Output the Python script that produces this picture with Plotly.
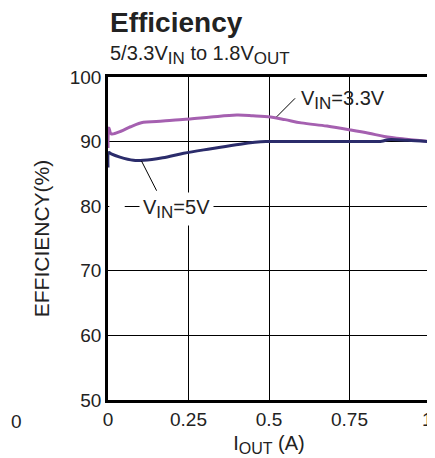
import plotly.graph_objects as go

# Data
x_33 = [0.0, 0.003, 0.01, 0.04, 0.07, 0.11, 0.15, 0.2, 0.255, 0.32, 0.40, 0.45, 0.505, 0.55, 0.6, 0.68, 0.754, 0.81, 0.858, 0.92, 1.0]
y_33 = [89.0, 92.1, 91.2, 91.6, 92.3, 93.0, 93.1, 93.3, 93.5, 93.8, 94.1, 94.0, 93.8, 93.4, 92.9, 92.4, 91.8, 91.3, 90.8, 90.4, 90.0]
x_5 = [0.0, 0.003, 0.01, 0.037, 0.079, 0.11, 0.17, 0.235, 0.32, 0.41, 0.49, 0.6, 0.7, 0.8, 0.85, 0.87, 0.93, 1.0]
y_5 = [86.0, 88.3, 88.1, 87.6, 87.1, 87.1, 87.5, 88.2, 88.9, 89.6, 90.0, 90.0, 90.0, 90.0, 90.05, 90.3, 90.2, 90.0]

x_ticks = [0, 0.25, 0.5, 0.75, 1]
x_tick_labels = ["0", "0.25", "0.5", "0.75", "1&nbsp;"]
y_ticks = [50, 60, 70, 80, 90, 100]

FONT = "Liberation Sans, Arial, sans-serif"
TXT = "#222"


def sub(s, size):
    return f"<sub><span style='font-size:{size}px'>{s}</span></sub>"


fig = go.Figure()
fig.add_trace(go.Scatter(x=x_33, y=y_33, mode="lines", line=dict(color="#a560b0", width=3), line_shape="spline", showlegend=False))
fig.add_trace(go.Scatter(x=x_5, y=y_5, mode="lines", line=dict(color="#2b2c6b", width=3), line_shape="spline", showlegend=False))

fig.update_layout(
    width=427, height=450,
    margin=dict(l=100, r=5, t=69, b=58),
    paper_bgcolor="white", plot_bgcolor="white",
    font=dict(family=FONT, size=19, color=TXT),
    xaxis=dict(range=[0, 1], tickvals=x_ticks, ticktext=x_tick_labels, showgrid=True, gridcolor="black", gridwidth=1,
               zeroline=False, showline=True, linecolor="black", linewidth=2.5, mirror=True, ticks="",
               tickfont=dict(size=19), fixedrange=True, automargin=False, ticklabeloverflow="allow",
               title=dict(text="I" + sub("OUT", 16) + " (A)", font=dict(size=20), standoff=8)),
    yaxis=dict(range=[50, 100], tickvals=y_ticks, showgrid=True, gridcolor="black", gridwidth=1,
               zeroline=False, showline=True, linecolor="black", linewidth=2.5, mirror=True, ticks="",
               tickfont=dict(size=19), fixedrange=True, automargin=False,
               title=dict(text="EFFICIENCY(%)", font=dict(size=21), standoff=15)),
    annotations=[
        dict(xref="paper", yref="paper", x=0.0, y=1.0, yshift=55, xanchor="left", yanchor="middle",
             text="<b>Efficiency</b>", showarrow=False, font=dict(size=28, color=TXT)),
        dict(xref="paper", yref="paper", x=0.0, y=1.0, yshift=22, xanchor="left", yanchor="middle",
             text="5/3.3V" + sub("IN", 17) + " to 1.8V" + sub("OUT", 17), showarrow=False, font=dict(size=20, color=TXT)),
        dict(x=0.594, y=96.4, xanchor="left", yanchor="middle", text="V" + sub("IN", 17) + "=3.3V", showarrow=False,
             font=dict(size=20, color=TXT)),
        dict(x=0.097, y=79.6, xanchor="left", yanchor="middle", text="V" + sub("IN", 17) + "=5V", showarrow=False,
             bgcolor="white", borderpad=3, font=dict(size=20, color=TXT)),
        dict(xref="paper", yref="paper", x=0, y=0, xshift=-92, yshift=-21, xanchor="center", yanchor="middle",
             text="0", showarrow=False, font=dict(size=19, color=TXT)),
    ],
    shapes=[
        dict(type="line", x0=0.524, y0=93.85, x1=0.581, y1=96.7, line=dict(color="black", width=1)),
        dict(type="line", x0=0.104, y0=87.0, x1=0.151, y1=82.4, line=dict(color="black", width=1)),
        dict(type="line", x0=0.004, y0=80, x1=0.052, y1=80, line=dict(color="white", width=3)),
    ],
)

fig.write_html("out.html")
